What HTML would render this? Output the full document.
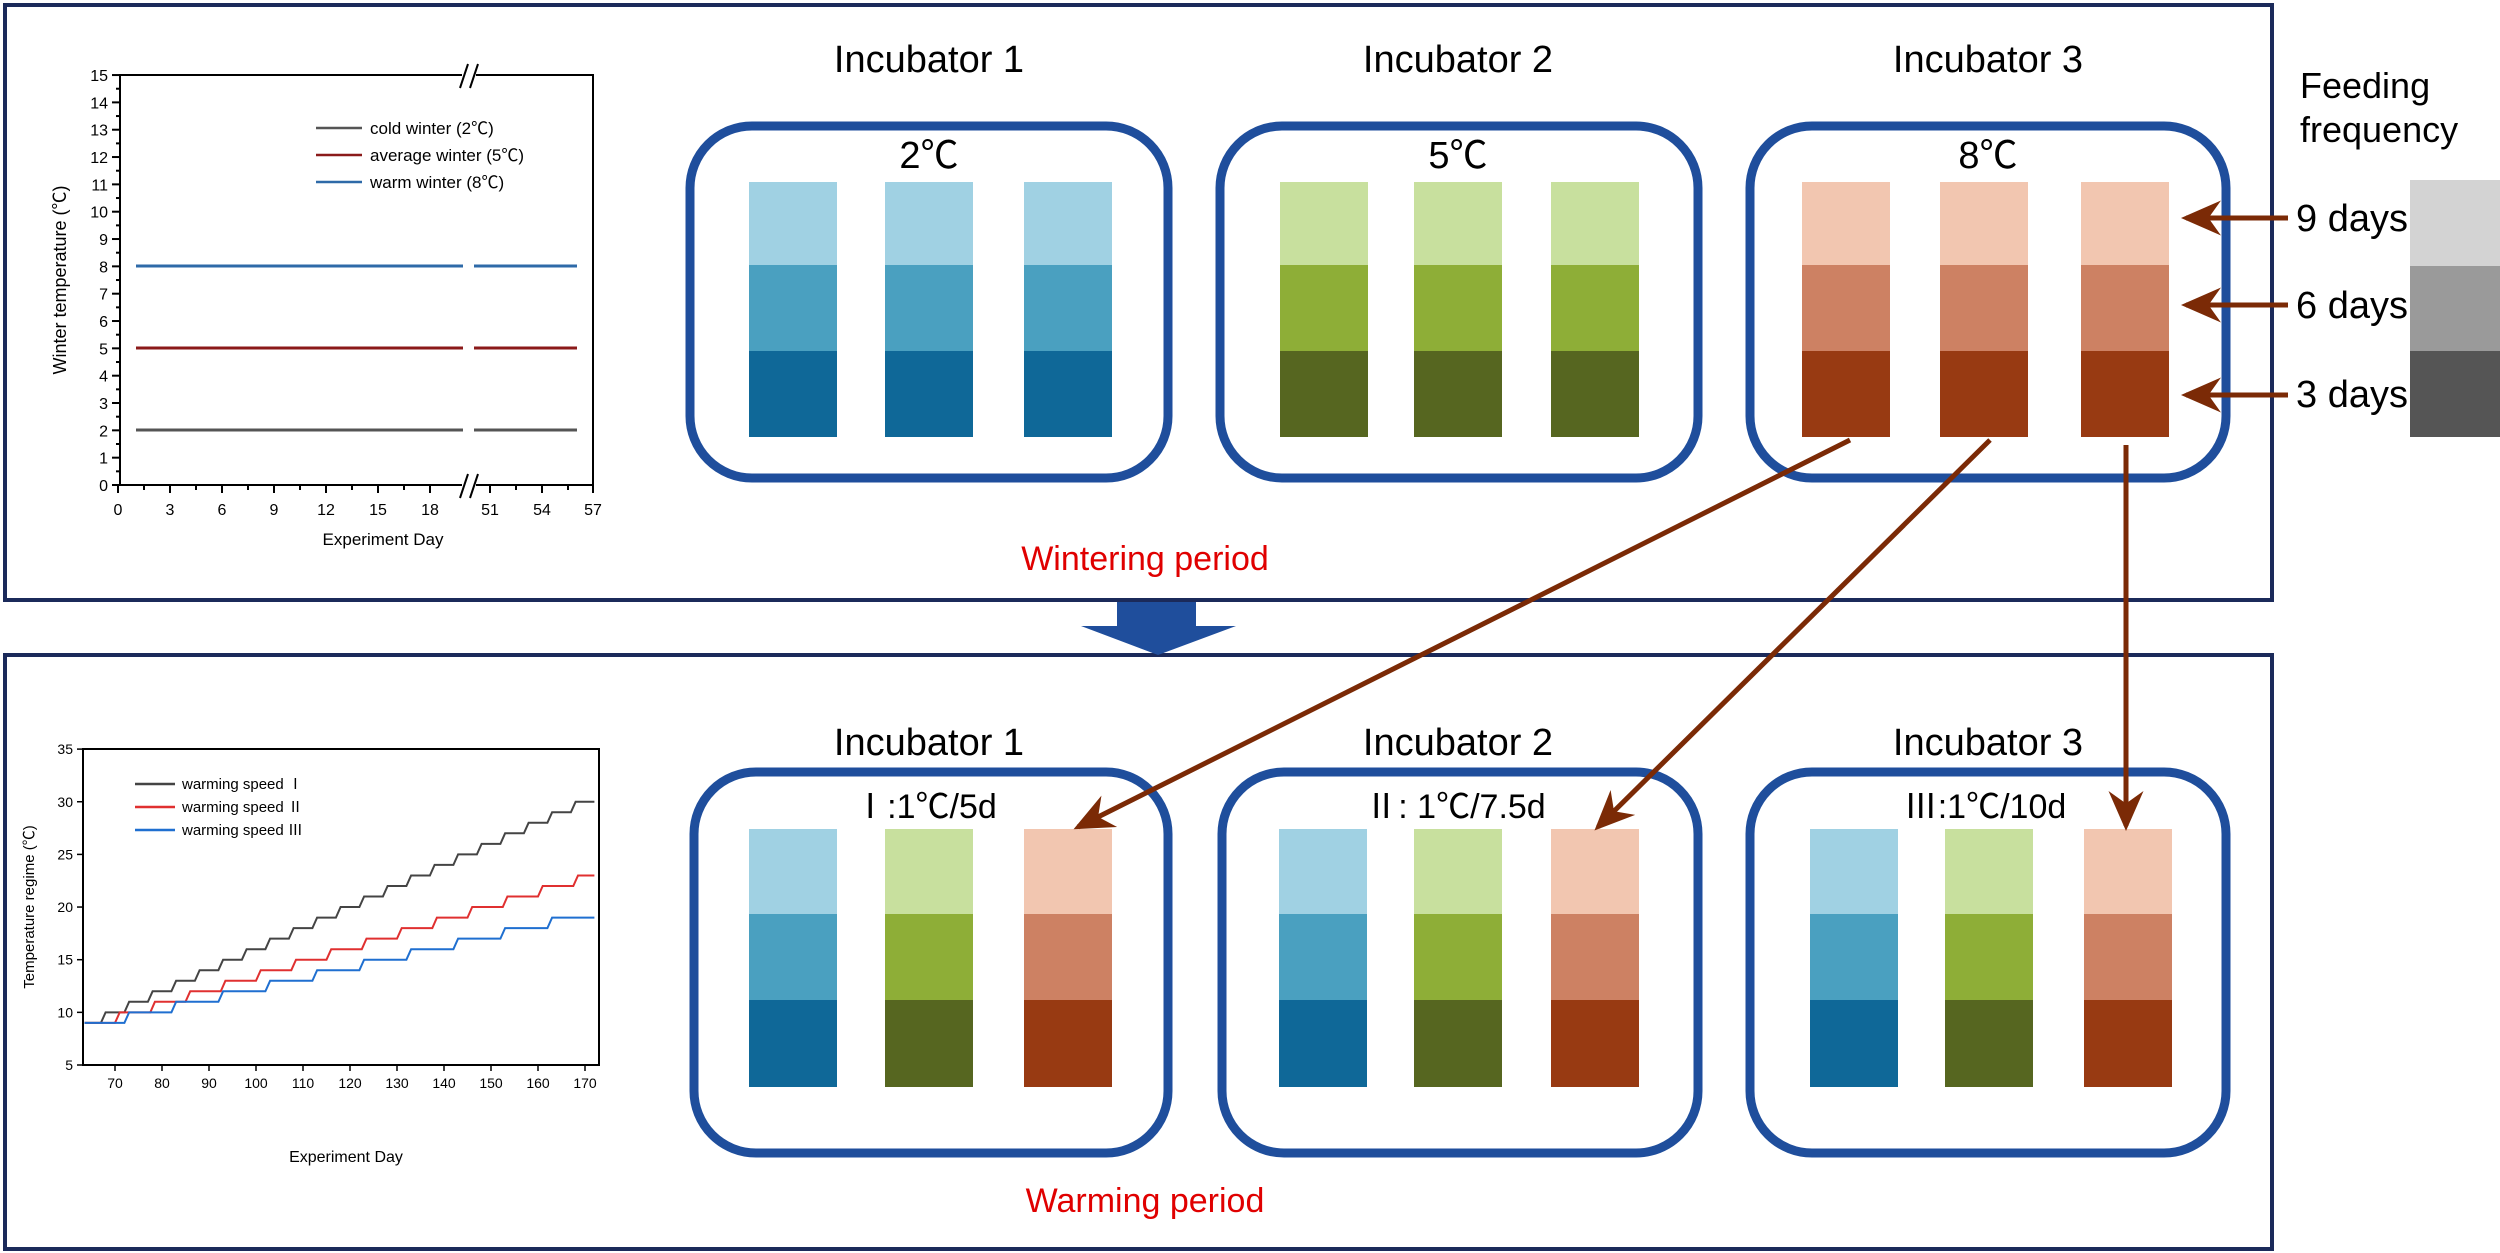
<!DOCTYPE html>
<html><head><meta charset="utf-8"><style>
html,body{margin:0;padding:0;background:#fff;}
svg{display:block;}
text{font-family:"Liberation Sans","Noto Sans CJK SC",sans-serif;}
</style></head><body>
<svg id="s" width="2500" height="1253" viewBox="0 0 2500 1253" xmlns="http://www.w3.org/2000/svg">
<defs>
<marker id="ah" markerWidth="8" markerHeight="8" refX="7" refY="4" orient="auto" markerUnits="strokeWidth"><path d="M0,0.5 L8,4 L0,7.5 L2.5,4 Z" fill="#7b2a06"/></marker>
</defs>
<rect x="5" y="5" width="2267" height="595" fill="none" stroke="#1b2a5a" stroke-width="4"/>
<rect x="5" y="655" width="2267" height="594" fill="none" stroke="#1b2a5a" stroke-width="4"/>
<polygon points="1117,602 1196,602 1196,626 1236,626 1158,655 1081,626 1117,626" fill="#1f4e9c"/>

<g id="topchart" stroke="#000" fill="none" stroke-width="2">
<path d="M120,75 H593 V485 H120 Z"/>
</g>
<g font-size="16" fill="#000" text-anchor="end" id="tyl"></g>
<g id="tops"></g>
<line x1="136" y1="266" x2="463" y2="266" stroke="#2e6aa8" stroke-width="3"/>
<line x1="474" y1="266" x2="577" y2="266" stroke="#2e6aa8" stroke-width="3"/>
<line x1="136" y1="348" x2="463" y2="348" stroke="#8b1a1a" stroke-width="3"/>
<line x1="474" y1="348" x2="577" y2="348" stroke="#8b1a1a" stroke-width="3"/>
<line x1="136" y1="430" x2="463" y2="430" stroke="#555" stroke-width="3"/>
<line x1="474" y1="430" x2="577" y2="430" stroke="#555" stroke-width="3"/>
<rect x="462" y="66" width="14" height="20" fill="#fff"/>
<rect x="462" y="476" width="14" height="20" fill="#fff"/>
<path d="M460,88 L468,64 M470,88 L478,64 M460,498 L468,474 M470,498 L478,474" stroke="#000" stroke-width="2"/>
<line x1="316" y1="128" x2="362" y2="128" stroke="#555" stroke-width="2.5"/>
<line x1="316" y1="155" x2="362" y2="155" stroke="#8b1a1a" stroke-width="2.5"/>
<line x1="316" y1="182" x2="362" y2="182" stroke="#2e6aa8" stroke-width="2.5"/>
<g font-size="17" fill="#000">
<text x="370" y="134">cold winter (2℃)</text>
<text x="370" y="161">average winter (5℃)</text>
<text x="370" y="188">warm winter (8℃)</text>
<text x="383" y="545" text-anchor="middle">Experiment Day</text>
<text transform="translate(66,280) rotate(-90)" text-anchor="middle" font-size="18">Winter temperature (℃)</text>
</g>

<rect x="83" y="749" width="516" height="316" fill="none" stroke="#000" stroke-width="2"/>
<g id="bots"></g>
<g font-size="15" fill="#000">
<text x="346" y="1162" text-anchor="middle" font-size="16">Experiment Day</text>
<text transform="translate(34,907) rotate(-90)" text-anchor="middle">Temperature regime (℃)</text>
<text x="182" y="789">warming speed Ⅰ</text>
<text x="182" y="812">warming speed Ⅱ</text>
<text x="182" y="835">warming speed Ⅲ</text>
</g>
<line x1="135" y1="784" x2="175" y2="784" stroke="#444" stroke-width="2.5"/>
<line x1="135" y1="807" x2="175" y2="807" stroke="#e03030" stroke-width="2.5"/>
<line x1="135" y1="830" x2="175" y2="830" stroke="#1f6fd0" stroke-width="2.5"/>

<g font-size="38" fill="#000" text-anchor="middle">
<text x="929" y="72">Incubator 1</text>
<text x="1458" y="72">Incubator 2</text>
<text x="1988" y="72">Incubator 3</text>
<text x="929" y="168">2℃</text>
<text x="1458" y="168">5℃</text>
<text x="1988" y="168">8℃</text>
<text x="929" y="755">Incubator 1</text>
<text x="1458" y="755">Incubator 2</text>
<text x="1988" y="755">Incubator 3</text>
<text x="925" y="818" font-size="34">Ⅰ:1℃/5d</text>
<text x="1455" y="818" font-size="34">Ⅱ: 1℃/7.5d</text>
<text x="1985" y="818" font-size="34">Ⅲ:1℃/10d</text>
</g>
<g font-size="36" fill="#000">
<text x="2300" y="98">Feeding</text>
<text x="2300" y="142">frequency</text>
</g>
<g fill="none" stroke="#1f4e9c" stroke-width="9">
<rect x="690" y="126" width="478" height="352" rx="62"/>
<rect x="1220" y="126" width="478" height="352" rx="62"/>
<rect x="1750" y="126" width="476" height="352" rx="62"/>
<rect x="694" y="772" width="474" height="381" rx="62"/>
<rect x="1222" y="772" width="476" height="381" rx="62"/>
<rect x="1750" y="772" width="476" height="381" rx="62"/>
</g>
<g id="bars"></g>

<rect x="2410" y="180" width="90" height="86" fill="#d3d3d3"/>
<rect x="2410" y="266" width="90" height="85" fill="#9a9a9a"/>
<rect x="2410" y="351" width="90" height="86" fill="#555"/>
<g font-size="38" fill="#000">
<text x="2296" y="231">9 days</text>
<text x="2296" y="318">6 days</text>
<text x="2296" y="407">3 days</text>
</g>
<g stroke="#7b2a06" stroke-width="5" fill="none" marker-end="url(#ah)">
<line x1="2288" y1="218" x2="2186" y2="218"/>
<line x1="2288" y1="305" x2="2186" y2="305"/>
<line x1="2288" y1="395" x2="2186" y2="395"/>
<line x1="1850" y1="440" x2="1078" y2="827"/>
<line x1="1990" y1="440" x2="1598" y2="827"/>
<line x1="2126" y1="445" x2="2126" y2="826"/>
</g>

<g font-size="34" fill="#e00000" text-anchor="middle">
<text x="1145" y="570">Wintering period</text>
<text x="1145" y="1212">Warming period</text>
</g>
</svg>
<script>
(function(){
var NS="http://www.w3.org/2000/svg";
function el(p,t,a,txt){var e=document.createElementNS(NS,t);for(var k in a)e.setAttribute(k,a[k]);if(txt!==undefined)e.textContent=txt;document.getElementById(p).appendChild(e);return e;}
for(var t=0;t<=15;t++){var y=485-t*27.33;el('tops','line',{x1:112,y1:y,x2:120,y2:y,stroke:'#000','stroke-width':2});
 el('tyl','text',{x:108,y:y+6},String(t));
 if(t<15){var y2=y-13.66;el('tops','line',{x1:116,y1:y2,x2:120,y2:y2,stroke:'#000','stroke-width':2});}}
var xs=[[0,118],[3,170],[6,222],[9,274],[12,326],[15,378],[18,430],[51,490],[54,542],[57,593]];
xs.forEach(function(v){el('tops','line',{x1:v[1],y1:485,x2:v[1],y2:493,stroke:'#000','stroke-width':2});
 el('tops','text',{x:v[1],y:515,'font-size':16,'text-anchor':'middle'},String(v[0]));});
[144,196,248,300,352,404,516,568].forEach(function(x){el('tops','line',{x1:x,y1:485,x2:x,y2:490,stroke:'#000','stroke-width':2});});
function X(d){return 115+(d-70)*4.7;} function Y(t){return 1065-(t-5)*10.53;}
for(var t=5;t<=35;t+=5){var y=Y(t);el('bots','line',{x1:77,y1:y,x2:83,y2:y,stroke:'#000','stroke-width':1.5});
 el('bots','text',{x:73,y:y+5,'font-size':14,'text-anchor':'end'},String(t));}
for(var d=70;d<=170;d+=10){el('bots','line',{x1:X(d),y1:1065,x2:X(d),y2:1071,stroke:'#000','stroke-width':1.5});
 el('bots','text',{x:X(d),y:1088,'font-size':14,'text-anchor':'middle'},String(d));}
function stair(start,step,n,col){var p=[[X(63.5),Y(9)]];var t=9;
 for(var k=0;k<n;k++){var d=start+k*step;p.push([X(d-1),Y(t)]);t++;p.push([X(d),Y(t)]);}
 p.push([X(172),Y(t)]);
 el('bots','polyline',{points:p.map(function(a){return a[0].toFixed(1)+','+a[1].toFixed(1)}).join(' '),fill:'none',stroke:col,'stroke-width':2});}
stair(68,5,21,'#444');stair(71,7.5,14,'#e03030');stair(73,10,10,'#1f6fd0');
var C={b:['#a0d1e3','#4aa0c0','#0f6898'],g:['#c8e09e','#8eae37','#566620'],o:['#f2c6b0','#cd8163','#983a12']};
function bar(x,ys,c){for(var i=0;i<3;i++)el('bars','rect',{x:x,y:ys[i],width:88,height:ys[i+1]-ys[i],fill:C[c][i]});}
var yt=[182,265,351,437];
[749,885,1024].forEach(function(x){bar(x,yt,'b');});
[1280,1414,1551].forEach(function(x){bar(x,yt,'g');});
[1802,1940,2081].forEach(function(x){bar(x,yt,'o');});
var yb=[829,914,1000,1087];
[[749,885,1024],[1279,1414,1551],[1810,1945,2084]].forEach(function(g){bar(g[0],yb,'b');bar(g[1],yb,'g');bar(g[2],yb,'o');});
})();
</script>
</body></html>
